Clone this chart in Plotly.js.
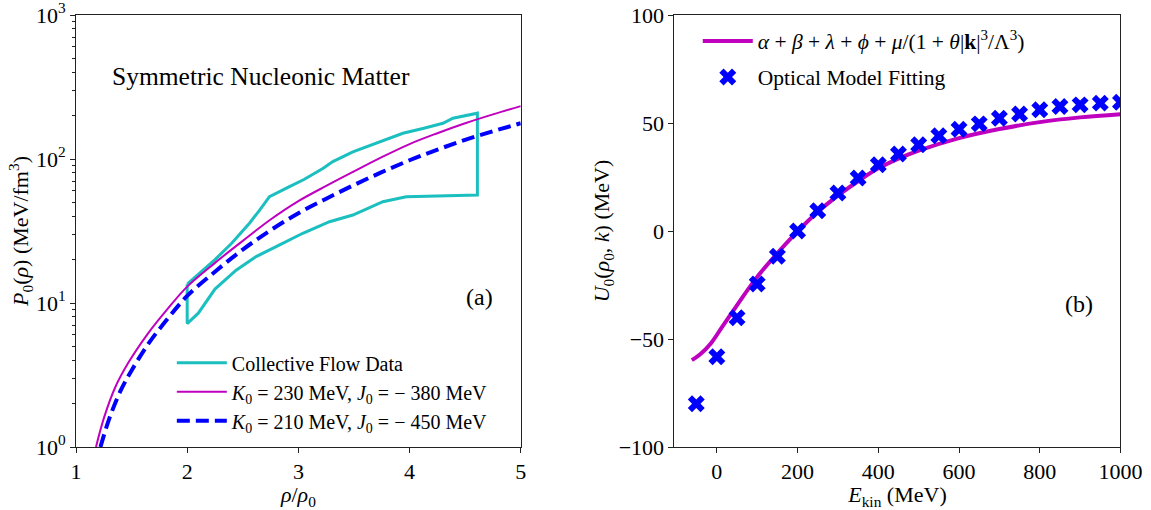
<!DOCTYPE html>
<html>
<head>
<meta charset="utf-8">
<script src="https://cdn.plot.ly/plotly-3.0.1.min.js"></script>
<style>html,body{margin:0;padding:0;background:#fff;}#chart{width:1151px;height:510px;}</style>
</head>
<body>
<div id="chart"></div>
<script>
// ---- Panel (a): pressure of symmetric nucleonic matter ----
const rhoK230 = [1.18, 1.25, 1.35, 1.47, 1.65, 1.82, 2.0, 2.25, 2.5, 2.75, 3.0, 3.25, 3.5, 3.75, 4.0, 4.25, 4.5, 4.75, 5.0];
const pK230   = [1.0, 1.58, 2.57, 3.84, 6.18, 9.03, 13.0, 19.0, 27, 38, 51, 65, 82, 103, 127, 151, 177, 204, 233];
const rhoK210 = [1.22, 1.3, 1.4, 1.5, 1.65, 1.82, 2.0, 2.25, 2.5, 2.75, 3.0, 3.25, 3.5, 3.75, 4.0, 4.25, 4.5, 4.75, 5.0];
const pK210   = [1.0, 1.58, 2.45, 3.4, 5.2, 7.7, 11.2, 16.5, 23.5, 32, 42, 53, 66, 81, 98, 116, 136, 156, 177];
const flowRho = [2.0, 2.25, 2.4, 2.56, 2.65, 2.74, 2.92, 3.05, 3.22, 3.31, 3.49, 3.70, 3.94, 4.12, 4.30, 4.39, 4.61,
                 4.61, 4.18, 3.97, 3.76, 3.49, 3.28, 3.04, 2.80, 2.62, 2.44, 2.25, 2.1, 2.0, 2.0];
const flowP   = [13.5, 20, 26, 35.8, 44, 54.7, 64.2, 72, 86, 96, 112, 128, 151, 163, 177, 192, 208,
                 56.2, 55.3, 54.7, 50.5, 40.8, 36.7, 30.5, 24.6, 21, 16.9, 12.5, 8.5, 7.2, 13.5];
const logTickVals = [1, 10, 100, 1000];
const logTickText = ['10<sup>0</sup>', '10<sup>1</sup>', '10<sup>2</sup>', '10<sup>3</sup>'];
const logMinorVals = [2,3,4,5,6,7,8,9,20,30,40,50,60,70,80,90,200,300,400,500,600,700,800,900];
const rhoTicks = [1, 2, 3, 4, 5];

// ---- Panel (b): single-nucleon potential ----
const eKinFit = [-62, -42, -14, 14, 51, 98, 149, 200, 247, 303, 359, 400, 450, 500, 600, 700, 800, 900, 1000];
const uFit    = [-59.8, -57.2, -51.8, -44.1, -34.1, -21.7, -10.5, -0.2, 8.3, 16.8, 24.2, 29.0, 33.5, 37.2, 43.0, 47.2, 50.4, 52.6, 54.1];
const eKinOpt = [-51, 0, 50, 100, 150, 200, 250, 300, 350, 400, 450, 500, 550, 600, 650, 700, 750, 800, 850, 900, 950, 1000];
const uOpt    = [-80, -58.2, -40.2, -24.5, -11.7, 0, 9.4, 17.6, 24.5, 30.7, 35.6, 39.9, 44.1, 47.1, 49.6, 52.2, 54.2, 56.1, 57.6, 58.4, 59.2, 59.6];
const eTicks = [0, 200, 400, 600, 800, 1000];
const uTicks = [-100, -50, 0, 50, 100];

const SERIF = 'Liberation Serif';
const cyan = '#1bbfbf', magenta = '#bf00bf', blue = '#0000ff';

const traces = [
  {x: flowRho, y: flowP, type: 'scatter', mode: 'lines', name: 'Collective Flow Data',
   line: {color: cyan, width: 3}, xaxis: 'x', yaxis: 'y', legend: 'legend'},
  {x: rhoK230, y: pK230, type: 'scatter', mode: 'lines', line: {color: magenta, width: 2, shape: 'spline'},
   name: '<i>K</i><sub>0</sub> = 230 MeV, <i>J</i><sub>0</sub> = − 380 MeV', xaxis: 'x', yaxis: 'y', legend: 'legend'},
  {x: rhoK210, y: pK210, type: 'scatter', mode: 'lines', line: {color: blue, width: 4, dash: '13px,6px', shape: 'spline'},
   name: '<i>K</i><sub>0</sub> = 210 MeV, <i>J</i><sub>0</sub> = − 450 MeV', xaxis: 'x', yaxis: 'y', legend: 'legend'},
  {x: eKinFit, y: uFit, type: 'scatter', mode: 'lines', line: {color: magenta, width: 4, shape: 'spline'},
   name: '<i>α</i> + <i>β</i> + <i>λ</i> + <i>ϕ</i> + <i>μ</i>/(1 + <i>θ</i>|<b>k</b>|<sup>3</sup>/Λ<sup>3</sup>)',
   xaxis: 'x2', yaxis: 'y2', legend: 'legend2', legendgroup: 'fit'},
  {x: eKinOpt, y: uOpt, type: 'scatter', mode: 'markers', marker: {symbol: 'x', size: 15, color: blue},
   name: 'Optical Model Fitting', xaxis: 'x2', yaxis: 'y2', legend: 'legend2', legendgroup: 'opt'}
];

function axisBase() {
  return {
    showgrid: false, zeroline: false, showline: true, linecolor: '#222', linewidth: 1, mirror: true,
    ticks: 'outside', ticklen: 5, tickcolor: '#222', ticklabeloverflow: 'allow',
    tickfont: {family: SERIF, size: 22, color: '#000'}
  };
}

const layout = {
  width: 1151, height: 510, autosize: false,
  margin: {l: 76, r: 30, t: 15, b: 63},
  paper_bgcolor: '#fff', plot_bgcolor: '#fff',
  font: {family: SERIF, color: '#000', size: 18},
  showlegend: true,
  xaxis: Object.assign(axisBase(), {
    domain: [0, 0.4256], range: [1, 5], tickmode: 'array', tickvals: rhoTicks,
    title: {text: '<i>ρ</i>/<i>ρ</i><sub>0</sub>', font: {family: SERIF, size: 22}, standoff: 4}, anchor: 'y'
  }),
  yaxis: Object.assign(axisBase(), {
    type: 'log', range: [0, 3], tickmode: 'array', tickvals: logTickVals, ticktext: logTickText,
    minor: {tickmode: 'array', tickvals: logMinorVals, ticks: 'outside', ticklen: 3, tickcolor: '#222'},
    title: {text: '<i>P</i><sub>0</sub>(<i>ρ</i>) (MeV/fm<sup>3</sup>)', font: {family: SERIF, size: 22}, standoff: 0},
    anchor: 'x'
  }),
  xaxis2: Object.assign(axisBase(), {
    domain: [0.5727, 0.9995], range: [-105, 1000], tickmode: 'array', tickvals: eTicks,
    title: {text: '<i>E</i><sub>kin</sub> (MeV)', font: {family: SERIF, size: 22}, standoff: 4}, anchor: 'y2'
  }),
  yaxis2: Object.assign(axisBase(), {
    range: [-100, 100], tickmode: 'array', tickvals: uTicks, ticktext: ['−100', '−50', '0', '50', '100'],
    title: {text: '<i>U</i><sub>0</sub>(<i>ρ</i><sub>0</sub>, <i>k</i>) (MeV)', font: {family: SERIF, size: 22}, standoff: 2},
    anchor: 'x2'
  }),
  legend: {
    x: 0.0917, y: 0.2402, xanchor: 'left', yanchor: 'top', bgcolor: 'rgba(0,0,0,0)',
    font: {family: SERIF, size: 20, color: '#000'}, tracegroupgap: 0, itemwidth: 50
  },
  legend2: {
    x: 0.595, y: 0.987, xanchor: 'left', yanchor: 'top', bgcolor: 'rgba(0,0,0,0)',
    font: {family: SERIF, size: 21.5, color: '#000'}, itemwidth: 50, traceorder: 'grouped', tracegroupgap: 5
  },
  annotations: [
    {xref: 'paper', yref: 'paper', x: 0.177, y: 0.857, xanchor: 'center', yanchor: 'middle', showarrow: false,
     text: 'Symmetric Nucleonic Matter', font: {family: SERIF, size: 25.5, color: '#000'}},
    {xref: 'x', yref: 'paper', x: 4.63, y: 0.347, xanchor: 'center', yanchor: 'middle', showarrow: false,
     text: '(a)', font: {family: SERIF, size: 24, color: '#000'}},
    {xref: 'x2', yref: 'y2', x: 898, y: -34, xanchor: 'center', yanchor: 'middle', showarrow: false,
     text: '(b)', font: {family: SERIF, size: 24, color: '#000'}}
  ]
};

Plotly.newPlot('chart', traces, layout, {staticPlot: true, displayModeBar: false});
</script>
</body>
</html>
